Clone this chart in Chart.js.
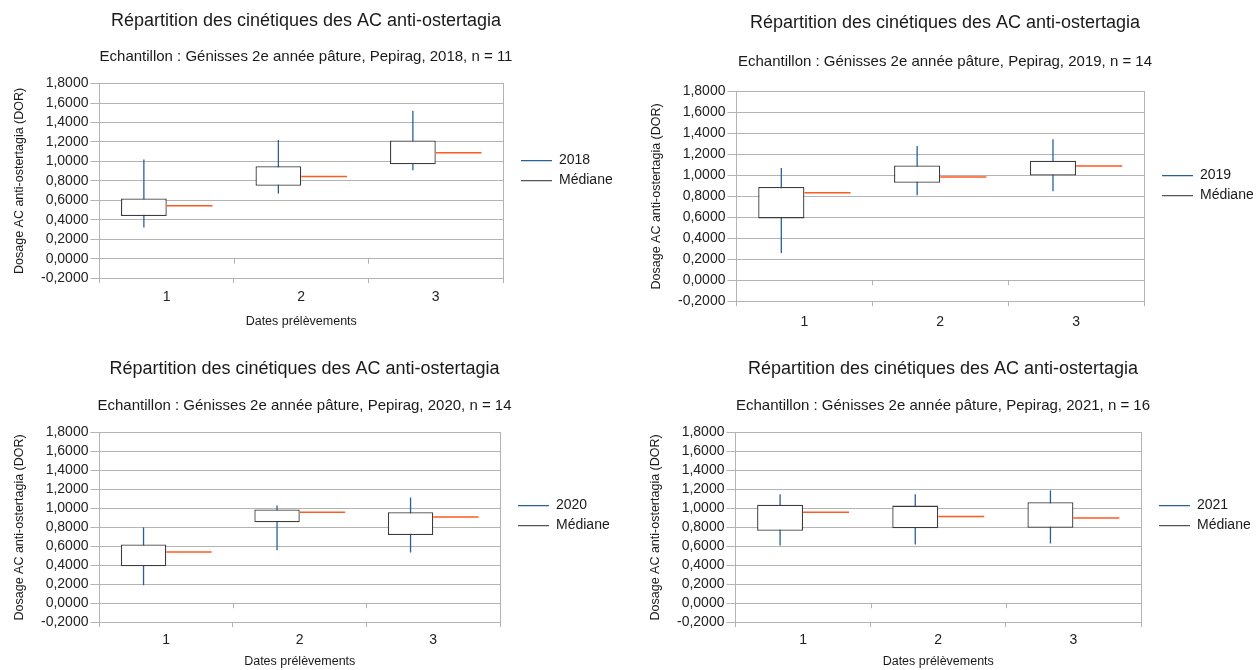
<!DOCTYPE html>
<html lang="fr">
<head>
<meta charset="UTF-8">
<title>Répartition des cinétiques des AC anti-ostertagia</title>
<script src="https://cdn.jsdelivr.net/npm/chart.js"></script>
<style>
  body { margin: 0; background: #fff; }
  .panneau { position: absolute; overflow: hidden; }
</style>
</head>
<body>
<div class="panneau" id="p2018"><canvas id="c2018"></canvas></div>
<div class="panneau" id="p2019"><canvas id="c2019"></canvas></div>
<div class="panneau" id="p2020"><canvas id="c2020"></canvas></div>
<div class="panneau" id="p2021"><canvas id="c2021"></canvas></div>
<script>
// Données (min, quartiles, médiane, max)
const categories = ['1', '2', '3'];
const yTicks = [-0.2, 0, 0.2, 0.4, 0.6, 0.8, 1, 1.2, 1.4, 1.6, 1.8];

const min2018 = [0.32, 0.67, 0.91];
const q1_2018 = [0.44, 0.75, 0.97];
const med2018 = [0.545, 0.845, 1.09];
const q3_2018 = [0.62, 0.95, 1.215];
const max2018 = [1.02, 1.22, 1.52];

const min2019 = [0.26, 0.81, 0.85];
const q1_2019 = [0.59, 0.93, 1.0];
const med2019 = [0.835, 0.985, 1.09];
const q3_2019 = [0.89, 1.095, 1.14];
const max2019 = [1.07, 1.28, 1.345];

const min2020 = [0.19, 0.56, 0.535];
const q1_2020 = [0.39, 0.855, 0.72];
const med2020 = [0.54, 0.96, 0.91];
const q3_2020 = [0.62, 0.99, 0.96];
const max2020 = [0.8, 1.03, 1.115];

const min2021 = [0.61, 0.62, 0.63];
const q1_2021 = [0.765, 0.79, 0.795];
const med2021 = [0.96, 0.915, 0.9];
const q3_2021 = [1.04, 1.03, 1.065];
const max2021 = [1.15, 1.15, 1.19];

const series = [
    { year: '2018', n: 11, min: min2018, q1: q1_2018, med: med2018, q3: q3_2018, max: max2018 },
    { year: '2019', n: 14, min: min2019, q1: q1_2019, med: med2019, q3: q3_2019, max: max2019 },
    { year: '2020', n: 14, min: min2020, q1: q1_2020, med: med2020, q3: q3_2020, max: max2020 },
    { year: '2021', n: 16, min: min2021, q1: q1_2021, med: med2021, q3: q3_2021, max: max2021 }
];

// Mise en page de chaque panneau
const panels = {
    '2018': { left: 0, top: 0, w: 627, h: 335, clip: 335, padR: 15, padB: 3, titleTop: 10, subTop: 16, subBottom: 18, tickPad: 6, xTop: 2, xBottom: 3, legendGap: 52 },
    '2019': { left: 637, top: 0, w: 631, h: 362, clip: 341, padR: 15, padB: 3, titleTop: 12, subTop: 19, subBottom: 21, tickPad: 8, xTop: 1, xBottom: 4, legendGap: 59 },
    '2020': { left: 0, top: 345, w: 624, h: 325, clip: 325, padR: 15, padB: 0, titleTop: 13, subTop: 17, subBottom: 18, tickPad: 5, xTop: 0, xBottom: 1, legendGap: 48 },
    '2021': { left: 636, top: 345, w: 629, h: 325, clip: 325, padR: 15, padB: 0, titleTop: 13, subTop: 17, subBottom: 18, tickPad: 5, xTop: 0, xBottom: 1, legendGap: 48 }
};

const BLEU = '#2a6099';
const ORANGE = '#ff5a1f';
const GRIS_BOITE = '#3c3c3c';
const GRILLE = '#b3b3b3';

Chart.defaults.font.family = "'Liberation Sans', Arial, sans-serif";
Chart.defaults.color = '#222';

// Moustaches (min-max) sous les boîtes, médianes à droite des boîtes
const boxPlugin = {
    id: 'moustaches',
    beforeDatasetsDraw(chart) {
        const { ctx, scales: { x, y } } = chart;
        const ds = chart.data.datasets[0];
        ctx.save();
        ctx.strokeStyle = BLEU;
        ctx.lineWidth = 1.3;
        chart.getDatasetMeta(0).data.forEach((bar, i) => {
            ctx.beginPath();
            ctx.moveTo(bar.x, y.getPixelForValue(ds.whiskerMax[i]));
            ctx.lineTo(bar.x, y.getPixelForValue(ds.whiskerMin[i]));
            ctx.stroke();
        });
        // petites graduations sur l'axe 0
        const y0 = y.getPixelForValue(0);
        ctx.strokeStyle = GRILLE;
        ctx.lineWidth = 1;
        for (let i = 1; i < categories.length; i++) {
            const bx = Math.round((x.getPixelForValue(i - 1) + x.getPixelForValue(i)) / 2) + 0.5;
            ctx.beginPath();
            ctx.moveTo(bx, y0);
            ctx.lineTo(bx, y0 + 5);
            ctx.stroke();
        }
        ctx.restore();
    },
    afterDatasetsDraw(chart) {
        const { ctx } = chart;
        ctx.save();
        ctx.strokeStyle = ORANGE;
        ctx.lineWidth = 1.5;
        chart.getDatasetMeta(1).data.forEach(bar => {
            ctx.beginPath();
            ctx.moveTo(bar.x - bar.width / 2, bar.y);
            ctx.lineTo(bar.x + bar.width / 2, bar.y);
            ctx.stroke();
        });
        ctx.restore();
    }
};

function formatTick(v) {
    return (Math.abs(v) < 1e-9 ? 0 : v).toFixed(4).replace('.', ',');
}

function makeChart(s) {
    const p = panels[s.year];
    const div = document.getElementById('p' + s.year);
    div.style.left = p.left + 'px';
    div.style.top = p.top + 'px';
    div.style.width = p.w + 'px';
    div.style.height = p.clip + 'px';
    const canvas = document.getElementById('c' + s.year);
    canvas.width = p.w;
    canvas.height = p.h;

    return new Chart(canvas, {
        type: 'bar',
        data: {
            labels: categories,
            datasets: [{
                label: s.year,
                data: s.q1.map((v, i) => [v, s.q3[i]]),
                whiskerMin: s.min,
                whiskerMax: s.max,
                legendColor: BLEU,
                backgroundColor: '#ffffff',
                borderColor: GRIS_BOITE,
                borderWidth: 1.3,
                borderSkipped: false
            }, {
                label: 'Médiane',
                data: s.med.map(v => [v, v]),
                legendColor: '#555555',
                backgroundColor: 'rgba(0,0,0,0)',
                borderWidth: 0
            }]
        },
        options: {
            responsive: false,
            animation: false,
            categoryPercentage: 0.68,
            barPercentage: 1,
            layout: { padding: { left: 0, right: p.padR, top: 0, bottom: p.padB } },
            plugins: {
                title: {
                    display: true,
                    text: 'Répartition des cinétiques des AC anti-ostertagia',
                    color: '#1a1a1a',
                    font: { size: 18, weight: 'normal' },
                    padding: { top: p.titleTop, bottom: 0 }
                },
                subtitle: {
                    display: true,
                    text: 'Echantillon : Génisses 2e année pâture, Pepirag, ' + s.year + ', n = ' + s.n,
                    color: '#1a1a1a',
                    font: { size: 15 },
                    padding: { top: p.subTop, bottom: p.subBottom }
                },
                legend: {
                    position: 'right',
                    align: 'start',
                    fullSize: false,
                    maxWidth: 97,
                    title: { display: true, text: '', font: { size: 10 }, padding: { top: 0, bottom: p.legendGap } },
                    labels: {
                        usePointStyle: true,
                        pointStyleWidth: 31,
                        padding: 6,
                        font: { size: 14 },
                        generateLabels: chart => chart.data.datasets.map((ds, i) => ({
                            text: ds.label,
                            strokeStyle: ds.legendColor,
                            fillStyle: ds.legendColor,
                            lineWidth: 1.3,
                            pointStyle: 'line',
                            hidden: false,
                            datasetIndex: i,
                            fontColor: '#1a1a1a'
                        }))
                    }
                },
                tooltip: { enabled: false }
            },
            scales: {
                x: {
                    grid: { drawOnChartArea: false, tickLength: 5, color: GRILLE, offset: true },
                    border: { color: GRILLE },
                    ticks: { font: { size: 14 }, padding: p.tickPad, color: '#222' },
                    title: {
                        display: true,
                        text: 'Dates prélèvements',
                        font: { size: 12.5 },
                        color: '#1a1a1a',
                        padding: { top: p.xTop, bottom: p.xBottom }
                    }
                },
                y: {
                    min: yTicks[0],
                    max: yTicks[yTicks.length - 1],
                    afterBuildTicks: sc => { sc.ticks = yTicks.map(v => ({ value: v })); },
                    grid: { color: GRILLE, tickLength: 9 },
                    border: { color: GRILLE },
                    ticks: { font: { size: 14 }, padding: 2, color: '#222', autoSkip: false, callback: formatTick },
                    title: {
                        display: true,
                        text: 'Dosage AC anti-ostertagia (DOR)',
                        font: { size: 12.5 },
                        color: '#1a1a1a',
                        padding: { top: 12, bottom: 12 }
                    }
                },
                bord: {
                    position: 'right',
                    grid: { drawOnChartArea: false, drawTicks: false },
                    border: { color: GRILLE },
                    ticks: { display: false },
                    afterFit: sc => { sc.width = 12; }
                }
            }
        },
        plugins: [boxPlugin]
    });
}

series.forEach(makeChart);
</script>
</body>
</html>
